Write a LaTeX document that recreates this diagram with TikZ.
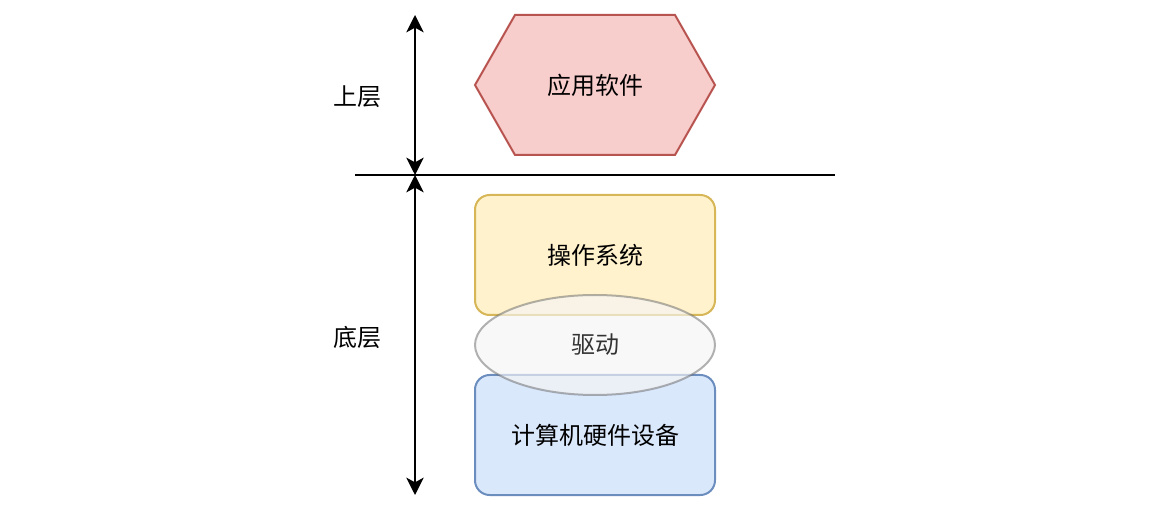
\documentclass[tikz,border=0pt]{standalone}
\usepackage{fontspec}
\setmainfont{Noto Sans CJK SC}
\usetikzlibrary{shapes.geometric,arrows.meta}
\definecolor{hexfill}{HTML}{F8CECC}
\definecolor{hexdraw}{HTML}{B85450}
\definecolor{osfill}{HTML}{FFF2CC}
\definecolor{osdraw}{HTML}{D6B656}
\definecolor{hwfill}{HTML}{DAE8FC}
\definecolor{hwdraw}{HTML}{6C8EBF}
\definecolor{drvfill}{HTML}{F5F5F5}
\definecolor{drvdraw}{HTML}{666666}
\definecolor{drvtext}{HTML}{333333}
\tikzset{
  lbl/.style={font=\fontsize{18pt}{20pt}\selectfont, text=black},
  layerbox/.style={rounded corners=11pt, line width=1.5pt, minimum width=180pt, minimum height=90pt, lbl},
  dbl/.style={line width=1.5pt, {Stealth[length=13pt,width=13pt,inset=3.5pt]}-{Stealth[length=13pt,width=13pt,inset=3.5pt]}},
}
\begin{document}
\begin{tikzpicture}[x=0.75pt,y=-0.75pt]
\useasboundingbox (0,0) rectangle (1171,509);
% hexagon
\coordinate (h1) at (475,85);
\coordinate (h2) at (515,15);
\coordinate (h3) at (675,15);
\coordinate (h4) at (715,85);
\coordinate (h5) at (675,155);
\coordinate (h6) at (515,155);
\draw[fill=hexfill, draw=hexdraw, line width=1.5pt, line join=miter] (h1) -- (h2) -- (h3) -- (h4) -- (h5) -- (h6) -- cycle;
\node[lbl] (app) at (595,85) {应用软件};
% boxes
\node[layerbox, fill=osfill, draw=osdraw] (os) at (595,255) {};
\node[lbl] (ostext) at (595,255) {操作系统};
\node[layerbox, fill=hwfill, draw=hwdraw] (hw) at (595,435) {计算机硬件设备};
\node[ellipse, minimum width=180pt, minimum height=75pt, inner sep=0pt, line width=1.5pt,
      fill=drvfill, fill opacity=0.65, draw=drvdraw, draw opacity=0.5,
      text=drvtext, text opacity=1, lbl, text=drvtext] (drv) at (595,345) {驱动};
% divider
\coordinate (lineL) at (355,175);
\coordinate (lineR) at (835,175);
\draw[line width=1.5pt] (lineL) -- (lineR);
% arrows
\coordinate (aTop) at (415,15);
\coordinate (aMid) at (415,175);
\coordinate (aBot) at (415,495);
\draw[dbl] (aMid) -- (aTop);
\draw[dbl] (aMid) -- (aBot);
% labels
\node[lbl] (upper) at (357,97) {上层};
\node[lbl] (lower) at (357,337) {底层};
\end{tikzpicture}
\end{document}
